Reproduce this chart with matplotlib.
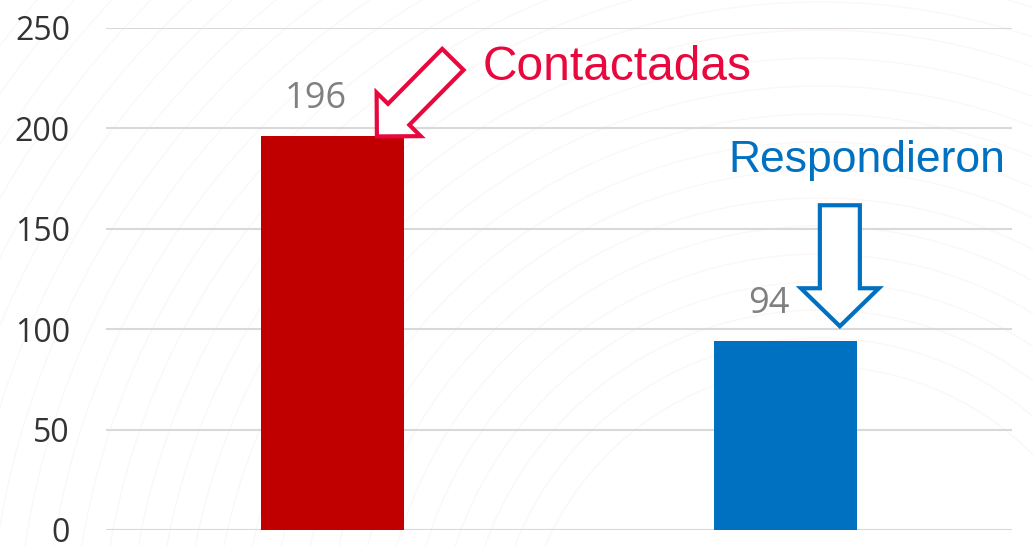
import matplotlib
matplotlib.use('Agg')
from matplotlib import pyplot as plt
from matplotlib.patches import FancyArrow, Circle
from matplotlib.transforms import IdentityTransform
import numpy as np

categories = ['Contactadas', 'Respondieron']
values = [196, 94]
bar_colors = ['#C00000', '#0070C0']
label_colors = ['#E8083E', '#0070C0']
yticks = [0, 50, 100, 150, 200, 250]

W, H, DPI = 1033, 546, 100
fig = plt.figure(figsize=(W / DPI, H / DPI), dpi=DPI)
fig.patch.set_facecolor('white')

# faint decorative arcs in the background
bg = fig.add_axes([0, 0, 1, 1], zorder=-1)
bg.set_xlim(0, W)
bg.set_ylim(0, H)
bg.axis('off')
for r in np.arange(300, 1300, 28):
    bg.add_patch(Circle((820, -120), r, fill=False, ec='#fbefea', lw=1, alpha=0.5))

ax = fig.add_axes([106 / W, 1 - 530 / H, 906 / W, 502 / H])
ax.patch.set_alpha(0)
x = np.arange(len(values))
ax.bar(x, values, width=0.314, color=bar_colors, zorder=3)
ax.set_xlim(-0.5, 1.5)
ax.set_ylim(0, 250)
ax.set_yticks(yticks)
ax.set_xticks([])
ax.grid(axis='y', color='#d9d9d9', lw=1.5, zorder=0)
for s in ax.spines.values():
    s.set_visible(False)
ax.tick_params(axis='y', length=0, pad=26, labelsize=23, labelcolor='#333333')
for t in ax.get_yticklabels():
    t.set_fontfamily('Open Sans')

for xi, v in zip(x, values):
    ax.annotate(str(v), (xi, v), xytext=(-12, 14), textcoords='offset points',
                ha='center', va='bottom', fontsize=26, color='#808080',
                family='Open Sans')

fig.canvas.draw()
tr = ax.transData

# red arrow pointing down-left onto the top of the first bar
tip = tr.transform((x[0] + 0.098, values[0]))
tail = tip + np.array([76, 77])
d = tip - tail
fig.patches.append(FancyArrow(tail[0], tail[1], d[0], d[1], width=30, head_width=62,
                              head_length=31, length_includes_head=True,
                              fc='white', ec=label_colors[0], lw=3,
                              transform=IdentityTransform(), figure=fig, zorder=5))
ax.annotate(categories[0], (x[0] + 0.098, values[0]), xytext=(106, 69),
            textcoords='offset pixels', ha='left', va='center', fontsize=34.5,
            color=label_colors[0], family='Liberation Sans')

# blue arrow pointing down to second bar
tip = tr.transform((x[1] + 0.12, values[1])) + np.array([0, 15])
fig.patches.append(FancyArrow(tip[0], tip[1] + 121, 0, -121, width=40, head_width=78,
                              head_length=38, length_includes_head=True,
                              fc='white', ec=label_colors[1], lw=3,
                              transform=IdentityTransform(), figure=fig, zorder=5))
ax.annotate(categories[1], (x[1] + 0.18, values[1]), xytext=(0, 130),
            textcoords='offset points', ha='center', va='center', fontsize=32,
            color=label_colors[1], family='Liberation Sans')

fig.savefig('out.png', dpi=DPI)
